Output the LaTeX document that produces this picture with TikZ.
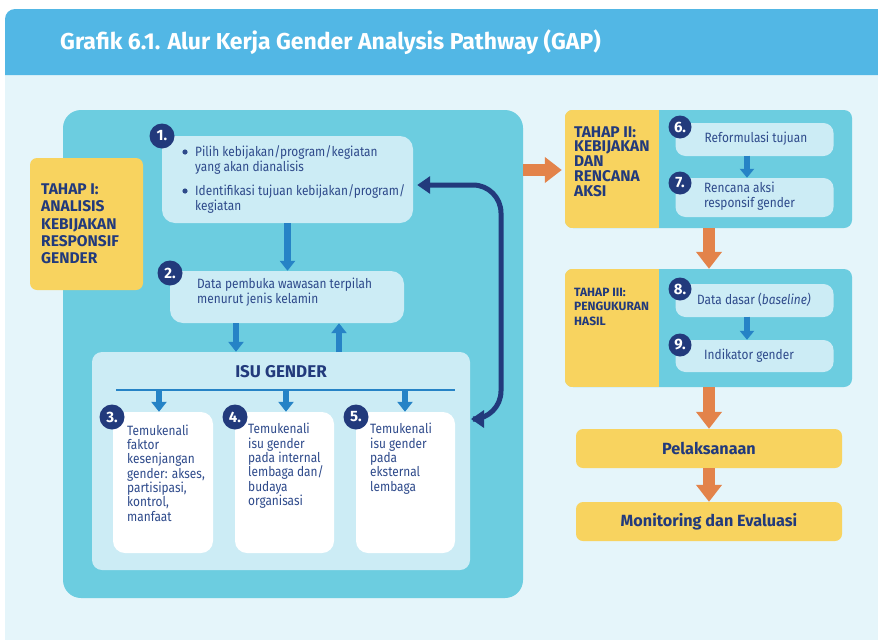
\documentclass[tikz,border=0pt]{standalone}
\usepackage{fontspec}
\setmainfont{Fira Sans}[FakeStretch=0.88]
\newfontfamily\headfont{Fira Sans}
\usetikzlibrary{arrows.meta,calc}

\definecolor{titlebar}{HTML}{52B7E5}
\definecolor{pagebg}{HTML}{E5F5FA}
\definecolor{panelcyan}{HTML}{6CCDE0}
\definecolor{lightcyan}{HTML}{CCECF5}
\definecolor{sun}{HTML}{F8D35F}
\definecolor{navy}{HTML}{223A7C}
\definecolor{bodyblue}{HTML}{2E4A8B}
\definecolor{flowblue}{HTML}{2683C6}
\definecolor{orange}{HTML}{E3834A}

\tikzset{
  panel/.style={fill=panelcyan, rounded corners=18, inner sep=0},
  lightbox/.style={fill=lightcyan, rounded corners=13, inner sep=0},
  whitebox/.style={fill=white, rounded corners=12, inner sep=0},
  sunbox/.style={fill=sun, rounded corners=7, inner sep=0},
  stagebox/.style={fill=panelcyan, rounded corners=8, inner sep=0},
  numc/.style={circle, fill=navy, text=white, minimum size=25, inner sep=0,
    font=\headfont\bfseries\fontsize{15}{15}\selectfont},
  body/.style={text=bodyblue, inner sep=0, align=left,
    font=\fontsize{13.5}{15}\selectfont},
  cardtext/.style={text=bodyblue, inner sep=0, align=left,
    font=\fontsize{13.5}{14.3}\selectfont},
  stagetext/.style={text=navy, inner sep=0, align=left,
    font=\headfont\bfseries\fontsize{15.5}{17.3}\selectfont},
  headtext/.style={text=navy, inner sep=0,
    font=\headfont\bfseries\fontsize{17}{17}\selectfont},
  barrow/.style={draw=flowblue, line width=6.5pt, -{Triangle[width=15pt,length=10pt]}},
  oarrow/.style={draw=orange, line width=12pt, -{Triangle[width=25pt,length=17pt]}},
  darrow/.style={draw=navy, line width=5pt, rounded corners=28,
    {Triangle[width=17pt,length=13pt]}-{Triangle[width=17pt,length=13pt]}},
}

\begin{document}
\begin{tikzpicture}[x=1pt,y=-1pt]
\useasboundingbox (0,0) rectangle (878,640);

% page background and title bar
\fill[white] (0,0) rectangle (878,640);
\fill[pagebg] (5,75) rectangle (878,640);
\fill[titlebar] (5,75) -- (5,19) arc[start angle=180, end angle=270, radius=10] -- (878,9) -- (878,75) -- cycle;
\node[anchor=west, inner sep=0, text=white, font=\headfont\bfseries\fontsize{23}{23}\selectfont] (title) at (60,42)
  {Grafik 6.1. Alur Kerja Gender Analysis Pathway (GAP)};

% ---------- stage I ----------
\node[panel, minimum width=460, minimum height=488] (panel) at (293,354) {};
\node[sunbox, minimum width=113, minimum height=132] (t1) at (86.5,224) {};
\node[stagetext, anchor=west] (t1txt) at (41,224) {TAHAP I:\\ANALISIS\\KEBIJAKAN\\RESPONSIF\\GENDER};

\node[lightbox, minimum width=251, minimum height=87] (b1) at (287.5,179.5) {};
\fill[bodyblue] (185,152) circle (2.6);
\fill[bodyblue] (185,191) circle (2.6);
\node[body, anchor=west] (b1a) at (195,159.5) {Pilih kebijakan/program/kegiatan\\yang akan dianalisis};
\node[body, anchor=west] (b1b) at (195,199) {Identifikasi tujuan kebijakan/program/\\kegiatan};

\node[lightbox, minimum width=234, minimum height=52] (b2) at (287,297) {};
\node[body, anchor=west] (b2txt) at (197,292.5) {Data pembuka wawasan terpilah\\menurut jenis kelamin};

\node[lightbox, rounded corners=10, minimum width=378, minimum height=218] (isu) at (281,461) {};
\node[headtext] (isutxt) at (281,372) {ISU GENDER};

\node[whitebox, minimum width=100, minimum height=141] (w3) at (163,482.5) {};
\node[whitebox, minimum width=99, minimum height=141] (w4) at (284.5,482.5) {};
\node[whitebox, minimum width=99, minimum height=141] (w5) at (405.5,482.5) {};
\node[cardtext, anchor=west] (w3txt) at (127,473) {Temukenali\\faktor\\kesenjangan\\gender: akses,\\partisipasi,\\kontrol,\\manfaat};
\node[cardtext, anchor=west] (w4txt) at (248,465.8) {Temukenali\\isu gender\\pada internal\\lembaga dan/\\budaya\\organisasi};
\node[cardtext, anchor=west] (w5txt) at (370,458.6) {Temukenali\\isu gender\\pada\\eksternal\\lembaga};

% flow inside stage I
\draw[barrow] (b1.south) -- (b1.south |- b2.north);
\coordinate (d1) at (236,323);
\coordinate (u1) at (339,352);
\draw[barrow] (d1) -- (d1 |- isu.north);
\draw[barrow] (u1) -- (u1 |- b2.south);

\coordinate (ll) at (116,390);
\coordinate (lr) at (455,390);
\draw[flowblue, line width=2pt] (ll) -- (lr);
\coordinate (a3) at (159,389);
\coordinate (a4) at (286,389);
\coordinate (a5) at (405,389);
\draw[barrow] (a3) -- (a3 |- w3.north);
\draw[barrow] (a4) -- (a4 |- w4.north);
\draw[barrow] (a5) -- (a5 |- w5.north);

% feedback loop between step 1 and the gender issues
\coordinate (fb1) at ($(b1.east)+(4,5.5)$);
\coordinate (fb2) at (501,300);
\coordinate (fb3) at (471,419);
\draw[darrow] (fb1) -| (fb2) |- (fb3);

% number badges, stage I
\node[numc] (n1) at (162,136) {1.};
\node[numc] (n2) at (170,273) {2.};
\node[numc] (n3) at (112,417) {3.};
\node[numc] (n4) at (235,417) {4.};
\node[numc] (n5) at (356,417) {5.};

% ---------- stage II ----------
\node[stagebox, minimum width=287, minimum height=118] (t2) at (708.5,169) {};
\begin{scope}
  \clip[rounded corners=8] (t2.north west) rectangle (t2.south east);
  \fill[sun] (t2.north west) rectangle ($(t2.south west)+(94,0)$);
\end{scope}
\node[stagetext, anchor=west, font=\headfont\bfseries\fontsize{15.5}{14.75}\selectfont] (t2txt) at (574,161.5) {TAHAP II:\\KEBIJAKAN\\DAN\\RENCANA\\AKSI};
\node[lightbox, rounded corners=10, minimum width=158, minimum height=33] (b6) at (754.5,139.5) {};
\node[lightbox, rounded corners=10, minimum width=158, minimum height=39] (b7) at (754.5,197.5) {};
\node[body, anchor=center] (b6txt) at (756,139) {Reformulasi tujuan};
\node[body, anchor=west] (b7txt) at (704,196.5) {Rencana aksi\\responsif gender};
\coordinate (a6) at (747,155.5);
\draw[barrow, -{Triangle[width=14pt,length=9pt]}, line width=6pt] (a6) -- (a6 |- b7.north);
\node[numc, minimum size=23] (n6) at (680,127) {6.};
\node[numc, minimum size=23] (n7) at (680,183) {7.};

% ---------- stage III ----------
\node[stagebox, minimum width=287, minimum height=118] (t3) at (708.5,328) {};
\begin{scope}
  \clip[rounded corners=8] (t3.north west) rectangle (t3.south east);
  \fill[sun] (t3.north west) rectangle ($(t3.south west)+(94,0)$);
\end{scope}
\node[stagetext, anchor=west, font=\headfont\bfseries\fontsize{12}{14.5}\selectfont] (t3txt) at (574,306.5) {TAHAP III:\\PENGUKURAN\\HASIL};
\node[lightbox, rounded corners=10, minimum width=158, minimum height=33] (b8) at (754.5,300.5) {};
\node[lightbox, rounded corners=10, minimum width=158, minimum height=32] (b9) at (754.5,356) {};
\node[body, anchor=west] (b8txt) at (697,300) {Data dasar (\textit{baseline)}};
\node[body, anchor=west] (b9txt) at (704,356) {Indikator gender};
\coordinate (a8) at (747,316.5);
\draw[barrow, -{Triangle[width=14pt,length=9pt]}, line width=6pt] (a8) -- (a8 |- b9.north);
\node[numc, minimum size=23] (n8) at (680,289) {8.};
\node[numc, minimum size=23] (n9) at (680,345) {9.};

% ---------- implementation and evaluation ----------
\node[sunbox, minimum width=266, minimum height=39] (pel) at (709,448.5) {};
\node[headtext, font=\headfont\bfseries\fontsize{16.2}{16.2}\selectfont] (peltxt) at (709,448) {Pelaksanaan};
\node[sunbox, minimum width=266, minimum height=39] (mon) at (709,521.5) {};
\node[headtext, font=\headfont\bfseries\fontsize{16.2}{16.2}\selectfont] (montxt) at (709,522) {Monitoring dan Evaluasi};

% orange stage connectors
\coordinate (o1) at (523,170);
\draw[oarrow] (o1) -- ([xshift=-3pt]o1 -| t2.west);
\draw[oarrow] (t2.south) ++(0.5,0) coordinate (o2) -- (o2 |- t3.north);
\draw[oarrow] (t3.south) ++(0.5,0) coordinate (o3) -- (o3 |- pel.north);
\draw[oarrow] (pel.south) -- (mon.north);
\end{tikzpicture}
\end{document}
